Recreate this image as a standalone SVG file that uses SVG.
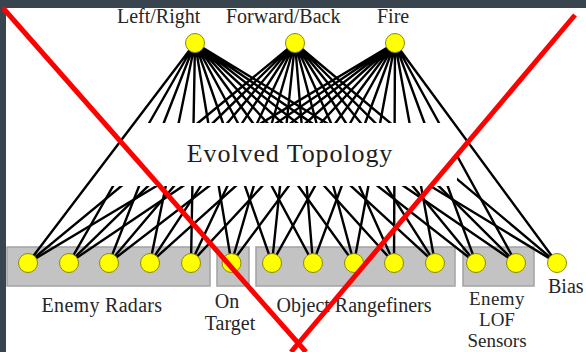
<svg xmlns="http://www.w3.org/2000/svg" width="586" height="352" viewBox="0 0 586 352">
<style>
.edge{stroke:#000;stroke-width:2.4;fill:none}
.box{fill:#c3c3c3;stroke:#a3a3a3;stroke-width:1.5}
.node{fill:#ffff00;stroke:#8c8c00;stroke-width:1}
.lbl{font-family:"Liberation Serif","Times New Roman",serif;font-size:20px;fill:#262626}
.x{stroke:#ff0000;stroke-width:5;fill:none}
</style>
<rect x="0" y="0" width="586" height="352" fill="#ffffff"/>
<rect x="0" y="0" width="586" height="8" fill="#38454f"/>
<rect x="0" y="0" width="6" height="352" fill="#38454f"/>
<g id="groups">
<rect class="box" x="7" y="247" width="203" height="39"/>
<rect class="box" x="217" y="247" width="32" height="39"/>
<rect class="box" x="256" y="247" width="199" height="39"/>
<rect class="box" x="463" y="247" width="71" height="39"/>
</g>
<g id="connectors">
<path class="edge" d="M195 43L28 263M195 43L69 263M195 43L109 263M195 43L150 263M195 43L191 263M195 43L231.5 263M195 43L272 263M195 43L313 263M195 43L354 263M195 43L394 263M195 43L435 263M195 43L476 263M195 43L516 263M195 43L557 263"/>
<path class="edge" d="M295 43L28 263M295 43L69 263M295 43L109 263M295 43L150 263M295 43L191 263M295 43L231.5 263M295 43L272 263M295 43L313 263M295 43L354 263M295 43L394 263M295 43L435 263M295 43L476 263M295 43L516 263M295 43L557 263"/>
<path class="edge" d="M395 43L28 263M395 43L69 263M395 43L109 263M395 43L150 263M395 43L191 263M395 43L231.5 263M395 43L272 263M395 43L313 263M395 43L354 263M395 43L394 263M395 43L435 263M395 43L476 263M395 43L516 263M395 43L557 263"/>
</g>
<g id="topology">
<polygon points="142,123 449,123 457,145 457,186 100,186" fill="#ffffff"/>
<text class="lbl" x="290" y="162" text-anchor="middle" style="font-size:26px;letter-spacing:0.9px;fill:#1e1e1e">Evolved Topology</text>
</g>
<g id="out-leftright"><circle class="node" cx="195" cy="43" r="9.5"/><text class="lbl" x="117" y="23">Left/Right</text></g>
<g id="out-forwardback"><circle class="node" cx="295" cy="43" r="9.5"/><text class="lbl" x="226" y="23">Forward/Back</text></g>
<g id="out-fire"><circle class="node" cx="395" cy="43" r="9.5"/><text class="lbl" x="377" y="23">Fire</text></g>
<g id="in-radar1"><circle class="node" cx="28" cy="263" r="9.5"/></g>
<g id="in-radar2"><circle class="node" cx="69" cy="263" r="9.5"/></g>
<g id="in-radar3"><circle class="node" cx="109" cy="263" r="9.5"/></g>
<g id="in-radar4"><circle class="node" cx="150" cy="263" r="9.5"/></g>
<g id="in-radar5"><circle class="node" cx="191" cy="263" r="9.5"/></g>
<g id="in-ontarget"><circle class="node" cx="231.5" cy="263" r="9.5"/></g>
<g id="in-range1"><circle class="node" cx="272" cy="263" r="9.5"/></g>
<g id="in-range2"><circle class="node" cx="313" cy="263" r="9.5"/></g>
<g id="in-range3"><circle class="node" cx="354" cy="263" r="9.5"/></g>
<g id="in-range4"><circle class="node" cx="394" cy="263" r="9.5"/></g>
<g id="in-range5"><circle class="node" cx="435" cy="263" r="9.5"/></g>
<g id="in-lof1"><circle class="node" cx="476" cy="263" r="9.5"/></g>
<g id="in-lof2"><circle class="node" cx="516" cy="263" r="9.5"/></g>
<g id="in-bias"><circle class="node" cx="557" cy="263" r="9.5"/><text class="lbl" x="548" y="293">Bias</text></g>
<g id="labels">
<text class="lbl" x="102" y="312" text-anchor="middle" style="letter-spacing:0.3px">Enemy Radars</text>
<text class="lbl" text-anchor="middle"><tspan x="227" y="308">On</tspan><tspan x="230" y="330">Target</tspan></text>
<text class="lbl" x="354" y="312" text-anchor="middle">Object Rangefiners</text>
<text class="lbl" text-anchor="middle" style="font-size:19px"><tspan x="497" y="305" style="letter-spacing:0.4px">Enemy</tspan><tspan x="497" y="326">LOF</tspan><tspan x="497" y="347">Sensors</tspan></text>
</g>
<g id="cross">
<line class="x" x1="3" y1="8" x2="306" y2="352"/>
<line class="x" x1="575" y1="15" x2="291" y2="352"/>
</g>
</svg>
